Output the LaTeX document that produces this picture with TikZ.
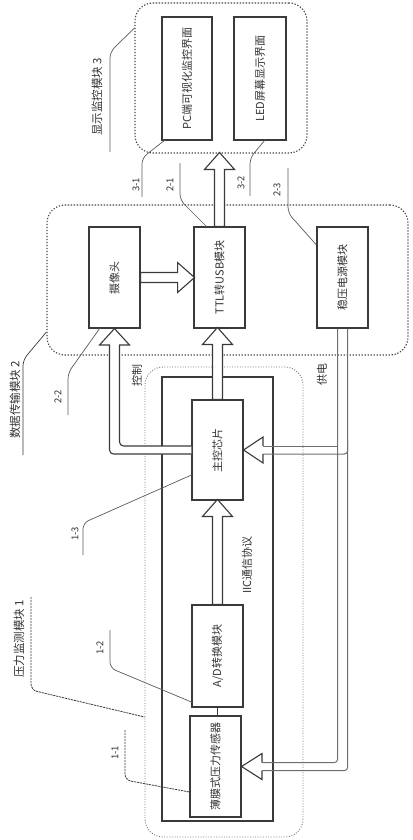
\documentclass[tikz,border=0pt]{standalone}
\usepackage{fontspec}
\usepackage{graphicx}
\setmainfont{Noto Sans CJK SC}
\usetikzlibrary{calc}
\definecolor{boxc}{HTML}{3A3A3A}
\definecolor{leadc}{HTML}{5A5A5A}
\definecolor{txtc}{HTML}{333333}
\definecolor{powc}{HTML}{6E6E6E}
\definecolor{dotc}{HTML}{444444}
\definecolor{dotl}{HTML}{7A7A7A}
\tikzset{
  unit/.style={draw=boxc, line width=1.1pt, fill=white, inner sep=0pt, text=txtc, font=\fontsize{11}{11}\selectfont},
  modbox/.style={draw=dotc, line width=1.1pt, dash pattern=on 1.3pt off 1.7pt, rounded corners=18pt, inner sep=0pt},
  modboxl/.style={draw=dotl, line width=0.9pt, dash pattern=on 1pt off 1.6pt, rounded corners=18pt, inner sep=0pt},
  leader/.style={draw=leadc, line width=0.7pt, rounded corners=6pt},
  dleader/.style={draw=boxc, line width=0.8pt, rounded corners=6pt, dash pattern=on 2.2pt off 0.8pt},
  lbl/.style={rotate=90, text=txtc, inner sep=0pt, font=\fontsize{9.5}{9.5}\selectfont},
  modlbl/.style={rotate=90, text=txtc, inner sep=0pt, font=\fontsize{11.5}{11.5}\selectfont},
  arrowline/.style={draw=boxc, line width=1.1pt, fill=white, line join=miter},
  powline/.style={draw=powc, line width=1pt, rounded corners=3pt},
  hollow/.pic={\path[arrowline] (0,-5) -- (#1-17,-5) -- (#1-17,-15) -- (#1,0) -- (#1-17,15) -- (#1-17,5) -- (0,5) -- cycle;}
}
\begin{document}
\begin{tikzpicture}[x=1pt,y=-1pt]
\useasboundingbox (0,0) rectangle (412,840);

% module frames
\node[modbox, minimum width=172pt, minimum height=150pt] (m3) at (221,78) {};
\node[modbox, minimum width=361pt, minimum height=150pt] (m2) at (227.5,280) {};
\node[modboxl, minimum width=158pt, minimum height=470pt] (m1) at (224,602) {};
\node[draw=boxc, line width=1.2pt, minimum width=111pt, minimum height=444pt, inner sep=0pt] (m1in) at (217.5,599) {};

% units
\node[unit, minimum width=50pt, minimum height=123pt] (pc) at (187,78.5) {\rotatebox{90}{PC端可视化监控界面}};
\node[unit, minimum width=52pt, minimum height=123pt] (led) at (260,78.5) {\rotatebox{90}{LED屏幕显示界面}};
\node[unit, minimum width=51pt, minimum height=101pt] (cam) at (114.5,277.5) {\rotatebox{90}{摄像头}};
\node[unit, minimum width=51pt, minimum height=101pt] (ttl) at (219.5,277.5) {\rotatebox{90}{TTL转USB模块}};
\node[unit, minimum width=51pt, minimum height=101pt] (psu) at (342.5,277.5) {\rotatebox{90}{稳压电源模块}};
\node[unit, minimum width=51pt, minimum height=100pt] (mcu) at (217.5,450) {\rotatebox{90}{主控芯片}};
\node[unit, minimum width=51pt, minimum height=102pt] (adc) at (217.5,656) {\rotatebox{90}{A/D转换模块}};
\node[unit, minimum width=51pt, minimum height=101pt] (sen) at (215.5,766.5) {\rotatebox{90}{薄膜式压力传感器}};

% hollow data arrows
\pic[rotate=90] at (ttl.north) {hollow=74};
\pic[rotate=90] at (mcu.north) {hollow=72};
\pic[rotate=90] at (adc.north) {hollow=105};
\pic at (cam.east) {hollow=54};
\draw[boxc, line width=1.1pt] (adc.south) -- (adc.south |- sen.north);

% control arrow (main chip -> camera)
\path[arrowline, rounded corners=4pt] ($(mcu.west)+(0,-4)$) -- (119.5,446) [sharp corners] -- (119.5,345) -- (129.5,345) -- (cam.south) -- (99.5,345) -- (109.5,345) [rounded corners=4pt] -- (109.5,454) [sharp corners] -- ($(mcu.west)+(0,4)$);

% power supply lines
\coordinate (pA) at ($(psu.south)+(-5,0)$);
\coordinate (pB) at ($(psu.south)+(5,0)$);
\draw[powline] (pA) -- (337.5,762.5) -- (262,762.5);
\draw[powline] (pB) -- (347.5,770.5) -- (262,770.5);
\draw[powc, line width=1pt] (337.5,446) -- (263,446);
\draw[powc, line width=1pt, rounded corners=3pt] (263,454) -- (347.5,454) -- (347.5,440);
\draw[boxc, line width=1.1pt, fill=white] (263,446) -- (263,437) -- (mcu.east) -- (263,463) -- (263,454);
\draw[boxc, line width=1.1pt, fill=white] (262,762.5) -- (262,753.5) -- (sen.east) -- (262,779.5) -- (262,770.5);

% leaders
\coordinate (l3a) at (110,152);
\draw[leader] (l3a) -- (110,52) -- (m3.west |- 0,28);
\coordinate (l2a) at (23,455);
\draw[leader, draw=boxc] (l2a) -- (23,360) -- (m2.west |- 0,332);
\coordinate (l1a) at (31,597);
\draw[dleader] (l1a) -- (31,690) -- (m1.west |- 0,717);
\coordinate (a31) at (142,197);
\draw[leader] (a31) -- (142,158) -- (165,140);
\coordinate (a32) at (250,196);
\draw[leader] (a32) -- (250,158) -- (265,140);
\coordinate (a21) at (180,163);
\draw[leader] (a21) -- (180,200) -- (207,227);
\coordinate (a23) at (288,168);
\draw[leader] (a23) -- (288,213) -- (psu.west |- 0,245);
\coordinate (a22) at (68,415);
\draw[leader] (a22) -- (68,373) -- (100,328);
\coordinate (a13) at (83,555);
\draw[leader] (a13) -- (83,523) -- (mcu.west |- 0,475);
\coordinate (a12) at (110,630);
\draw[leader] (a12) -- (110,668) -- (adc.west |- 0,702);
\coordinate (a11) at (125,730);
\draw[dleader] (a11) -- (125,780) -- (sen.west |- 0,792);

% labels
\node[modlbl] (t3) at (97,97) {显示监控模块 3};
\node[modlbl] (t2) at (15,400) {数据传输模块 2};
\node[modlbl] (t1) at (19,639) {压力监测模块 1};
\node[lbl] (n31) at (136,185) {3-1};
\node[lbl] (n21) at (170,185) {2-1};
\node[lbl] (n32) at (241,183) {3-2};
\node[lbl] (n23) at (277,190) {2-3};
\node[lbl] (n22) at (58,397) {2-2};
\node[lbl] (n13) at (75,534) {1-3};
\node[lbl] (n12) at (100,648) {1-2};
\node[lbl] (n11) at (115,753) {1-1};
\node[lbl, font=\fontsize{11}{11}\selectfont] (kz) at (137,375) {控制};
\node[lbl, font=\fontsize{11}{11}\selectfont] (gd) at (322,374) {供电};
\node[lbl, font=\fontsize{11}{11}\selectfont] (iic) at (247,565) {IIC通信协议};
\end{tikzpicture}
\end{document}
